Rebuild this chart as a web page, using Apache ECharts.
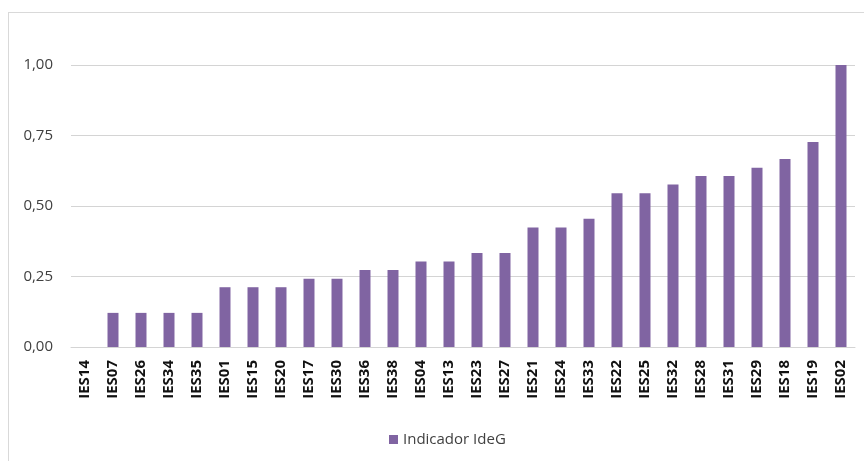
<!DOCTYPE html>
<html>
<head>
<meta charset="utf-8">
<script src="https://cdn.jsdelivr.net/npm/echarts@6/dist/echarts.min.js"></script>
<style>
  html, body { margin: 0; padding: 0; background: #fff; }
  #frame { position: absolute; left: 8px; top: 12px; width: 870px; height: 470px; border: 1px solid #d9d9d9; box-sizing: border-box; }
  #chart { position: absolute; left: 0; top: 0; width: 864px; height: 461px; }
</style>
</head>
<body>
<div id="frame"></div>
<div id="chart"></div>
<script>
var categories = ['IES14', 'IES07', 'IES26', 'IES34', 'IES35', 'IES01', 'IES15', 'IES20', 'IES17', 'IES30',
  'IES36', 'IES38', 'IES04', 'IES13', 'IES23', 'IES27', 'IES21', 'IES24', 'IES33', 'IES22',
  'IES25', 'IES32', 'IES28', 'IES31', 'IES29', 'IES18', 'IES19', 'IES02'];
var values = [0, 0.121, 0.121, 0.121, 0.121, 0.212, 0.212, 0.212, 0.242, 0.242,
  0.273, 0.273, 0.303, 0.303, 0.333, 0.333, 0.424, 0.424, 0.455, 0.545,
  0.545, 0.576, 0.606, 0.606, 0.636, 0.667, 0.727, 1.0];
var seriesName = 'Indicador IdeG';

var chart = echarts.init(document.getElementById('chart'));
chart.setOption({
  animation: false,
  textStyle: { fontFamily: 'Open Sans' },
  grid: { left: 71, right: 9, top: 65, bottom: 114, containLabel: false },
  legend: {
    top: 427,
    left: 384,
    itemWidth: 9,
    itemHeight: 9,
    itemGap: 6,
    icon: 'rect',
    textStyle: { color: '#404040', fontSize: 15 },
    data: [seriesName]
  },
  xAxis: {
    type: 'category',
    data: categories,
    axisTick: { show: false },
    axisLine: { lineStyle: { color: '#d4d4d4', width: 1 } },
    axisLabel: {
      rotate: 90,
      interval: 0,
      color: '#111',
      fontWeight: 'bold',
      fontSize: 15,
      margin: 13
    }
  },
  yAxis: {
    type: 'value',
    min: 0,
    max: 1,
    interval: 0.25,
    axisLine: { show: false },
    axisTick: { show: false },
    axisLabel: {
      color: '#404040',
      fontSize: 15,
      margin: 18,
      formatter: function (v) { return v.toFixed(2).replace('.', ','); }
    },
    splitLine: { lineStyle: { color: '#d4d4d4', width: 1 } }
  },
  series: [{
    name: seriesName,
    type: 'bar',
    data: values,
    barWidth: 11,
    itemStyle: { color: '#8064A2' }
  }]
});
</script>
</body>
</html>
